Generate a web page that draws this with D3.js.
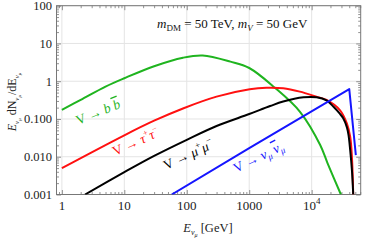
<!DOCTYPE html>
<html>
<head>
<meta charset="utf-8">
<script src="https://cdn.jsdelivr.net/npm/d3@7"></script>
<style>
  body { margin: 0; background: #fff; }
  svg { display: block; font-family: "Liberation Serif", "DejaVu Serif", serif; }
</style>
</head>
<body>
<div id="chart"></div>
<script>
// valori (E in GeV, E dN/dE)
const bbE = [1, 2, 5, 10, 30, 87, 180, 500, 1000, 2580, 6550, 13700, 18000, 29400];
const bbV = [0.175, 0.32, 0.72, 1.2, 2.5, 4.2, 4.8, 3.3, 2.24, 0.67, 0.153, 0.0205, 0.0067, 0.001];

const tauE = [1, 10, 30, 87, 300, 1020, 1890, 3500, 6460, 11900, 17300, 28500, 36700, 41400, 44100, 46300];
const tauV = [0.005, 0.037, 0.09, 0.19, 0.39, 0.61, 0.67, 0.65, 0.53, 0.39, 0.32, 0.17, 0.076, 0.034, 0.01, 0.001];

const muE = [2.35, 10, 30, 100, 300, 1000, 2160, 3500, 7400, 12000, 17300, 22400, 28000, 32000, 36700, 38900, 41400, 44100, 46300];
const muV = [0.001, 0.0039, 0.0105, 0.028, 0.065, 0.135, 0.22, 0.29, 0.375, 0.375, 0.31, 0.21, 0.14, 0.105, 0.06, 0.038, 0.015, 0.0045, 0.001];

const nuE = [57.5, 1000, 40000, 51000];
const nuV = [0.001, 0.017, 0.62, 0.011];

const xTickValues = [1, 10, 100, 1000, 10000];
const xTickLabels = ["1", "10", "100", "1000", "10^4"];
const yTickValues = [100, 10, 1, 0.1, 0.01, 0.001];
const yTickLabels = ["100", "10", "1", "0.100", "0.010", "0.001"];

const width = 366;
const height = 241;
const mLeft = 56.5, mRight = 360.7, mTop = 5.7, mBottom = 194.5;

const svg = d3.select("#chart").append("svg").attr("width", width).attr("height", height);

const x = d3.scaleLog().domain([0.82, 61000]).range([mLeft, mRight]);
const y = d3.scaleLog().domain([0.001, 100]).range([mBottom, mTop]);

// griglia
svg.append("g").selectAll("line").data(xTickValues).join("line")
  .attr("x1", (d) => x(d)).attr("x2", (d) => x(d)).attr("y1", mTop).attr("y2", mBottom)
  .attr("stroke", "#e4e4e4").attr("stroke-width", 1);
svg.append("g").selectAll("line").data(yTickValues).join("line")
  .attr("y1", (d) => y(d)).attr("y2", (d) => y(d)).attr("x1", mLeft).attr("x2", mRight)
  .attr("stroke", "#e4e4e4").attr("stroke-width", 1);

// tacche interne su tutti i lati
const xAll = x.ticks().filter((d) => d >= 0.82 && d <= 61000);
const yAll = y.ticks();
const isMajor = (d) => Math.abs(Math.log10(d) - Math.round(Math.log10(d))) < 1e-9;

function tickAxis(axisFn, scale, vals, size, transform) {
  svg.append("g").attr("transform", transform)
    .call(axisFn(scale).tickValues(vals).tickSize(size).tickFormat(""))
    .call((g) => g.select(".domain").remove())
    .call((g) => g.selectAll("line").attr("stroke", "#777").attr("stroke-width", 0.8));
}
tickAxis(d3.axisBottom, x, xAll.filter((d) => !isMajor(d)), -2.5, `translate(0,${mBottom})`);
tickAxis(d3.axisBottom, x, xAll.filter(isMajor), -4.5, `translate(0,${mBottom})`);
tickAxis(d3.axisTop, x, xAll.filter((d) => !isMajor(d)), -2.5, `translate(0,${mTop})`);
tickAxis(d3.axisTop, x, xAll.filter(isMajor), -4.5, `translate(0,${mTop})`);
tickAxis(d3.axisLeft, y, yAll.filter((d) => !isMajor(d)), -2.5, `translate(${mLeft},0)`);
tickAxis(d3.axisLeft, y, yAll.filter(isMajor), -4.5, `translate(${mLeft},0)`);
tickAxis(d3.axisRight, y, yAll.filter((d) => !isMajor(d)), -2.5, `translate(${mRight},0)`);
tickAxis(d3.axisRight, y, yAll.filter(isMajor), -4.5, `translate(${mRight},0)`);

svg.append("rect").attr("x", mLeft).attr("y", mTop).attr("width", mRight - mLeft).attr("height", mBottom - mTop)
  .attr("fill", "none").attr("stroke", "#777").attr("stroke-width", 1);

// curve
svg.append("clipPath").attr("id", "clip").append("rect")
  .attr("x", mLeft).attr("y", mTop).attr("width", mRight - mLeft).attr("height", mBottom - mTop);

const series = [
  { E: bbE, V: bbV, color: "#1fb41f", curve: d3.curveCatmullRom.alpha(0.5) },
  { E: tauE, V: tauV, color: "#ff1010", curve: d3.curveCatmullRom.alpha(0.5) },
  { E: muE, V: muV, color: "#000000", curve: d3.curveCatmullRom.alpha(0.5) },
  { E: nuE, V: nuV, color: "#1515ff", curve: d3.curveLinear },
];
const plot = svg.append("g").attr("clip-path", "url(#clip)");
series.forEach((s) => {
  const pts = s.E.map((e, i) => [e, s.V[i]]);
  const line = d3.line().x((d) => x(d[0])).y((d) => y(d[1])).curve(s.curve);
  plot.append("path").attr("d", line(pts)).attr("fill", "none")
    .attr("stroke", s.color).attr("stroke-width", 2).attr("stroke-linejoin", "round");
});

// etichette assi
svg.append("g").selectAll("text").data(yTickValues).join("text")
  .attr("x", 52).attr("y", (d) => y(d)).attr("dy", "0.36em")
  .attr("text-anchor", "end").attr("font-size", 12.5).attr("fill", "#222")
  .text((d, i) => yTickLabels[i]);

xTickValues.forEach((d, i) => {
  const t = svg.append("text").attr("x", x(d)).attr("y", 210)
    .attr("text-anchor", "middle").attr("font-size", 13).attr("fill", "#222");
  const lab = xTickLabels[i];
  if (lab.includes("^")) {
    const [b, e] = lab.split("^");
    t.append("tspan").text(b);
    t.append("tspan").attr("font-size", 9).attr("dy", -6).text(e);
  } else {
    t.text(lab);
  }
});

// titolo asse x
const xl = svg.append("text").attr("x", 208).attr("y", 232).attr("text-anchor", "middle")
  .attr("font-size", 12.5).attr("fill", "#222");
xl.append("tspan").attr("font-style", "italic").text("E");
xl.append("tspan").attr("font-style", "italic").attr("font-size", 8).attr("dy", 3).text("ν");
xl.append("tspan").attr("font-style", "italic").attr("font-size", 6).attr("dy", 2).text("μ");
xl.append("tspan").attr("dy", -5).text(" [GeV]");

// titolo asse y
const yl = svg.append("text").attr("transform", "translate(16,102) rotate(-90)")
  .attr("text-anchor", "middle").attr("font-size", 12).attr("fill", "#222");
function sub(t) {
  t.append("tspan").attr("font-style", "italic").attr("font-size", 7).attr("dy", 3).text("ν");
  t.append("tspan").attr("font-style", "italic").attr("font-size", 5).attr("dy", 2).text("μ");
}
yl.append("tspan").attr("font-style", "italic").text("E");
sub(yl);
yl.append("tspan").attr("dy", -5).text(" dN");
sub(yl);
yl.append("tspan").attr("dy", -5).text("/dE");
sub(yl);

// annotazione masse
const ann = svg.append("text").attr("x", 157).attr("y", 28).attr("font-size", 13).attr("fill", "#111");
ann.append("tspan").attr("font-style", "italic").text("m");
ann.append("tspan").attr("font-size", 9).attr("dy", 3).text("DM");
ann.append("tspan").attr("dy", -3).text(" = 50 TeV, ");
ann.append("tspan").attr("font-style", "italic").text("m");
ann.append("tspan").attr("font-style", "italic").attr("font-size", 9).attr("dy", 3).text("V");
ann.append("tspan").attr("dy", -3).text(" = 50 GeV");

// etichette canali
function chanLabel(px, py, angle, color, size, build) {
  const t = svg.append("text").attr("transform", `translate(${px},${py}) rotate(${angle})`)
    .attr("font-size", size).attr("fill", color);
  build(t);
}
chanLabel(78, 125, -22, "#1fb41f", 13.5, (t) => {
  t.append("tspan").text("V → ");
  t.append("tspan").attr("font-style", "italic").text("b ");
  t.append("tspan").attr("font-style", "italic").attr("text-decoration", "overline").text("b");
});
chanLabel(115, 156, -24, "#ff1010", 13.5, (t) => {
  t.append("tspan").text("V → ");
  t.append("tspan").attr("font-style", "italic").text("τ");
  t.append("tspan").attr("font-size", 9).attr("dy", -6).text("+");
  t.append("tspan").attr("font-style", "italic").attr("dy", 6).text("τ");
  t.append("tspan").attr("font-size", 9).attr("dy", -6).text("−");
});
chanLabel(166, 170, -25, "#000", 13.5, (t) => {
  t.append("tspan").text("V → ");
  t.append("tspan").attr("font-style", "italic").text("μ");
  t.append("tspan").attr("font-size", 9).attr("dy", -6).text("+");
  t.append("tspan").attr("font-style", "italic").attr("dy", 6).text("μ");
  t.append("tspan").attr("font-size", 9).attr("dy", -6).text("−");
});
chanLabel(236, 173, -26, "#1515ff", 13.5, (t) => {
  t.append("tspan").text("V → ");
  t.append("tspan").attr("font-style", "italic").text("ν");
  t.append("tspan").attr("font-style", "italic").attr("font-size", 9).attr("dy", 3).text("μ");
  t.append("tspan").attr("font-style", "italic").attr("dy", -3).text(" ");
  t.append("tspan").attr("font-style", "italic").attr("text-decoration", "overline").text("ν");
  t.append("tspan").attr("font-style", "italic").attr("font-size", 9).attr("dy", 3).text("μ");
});
</script>
</body>
</html>
